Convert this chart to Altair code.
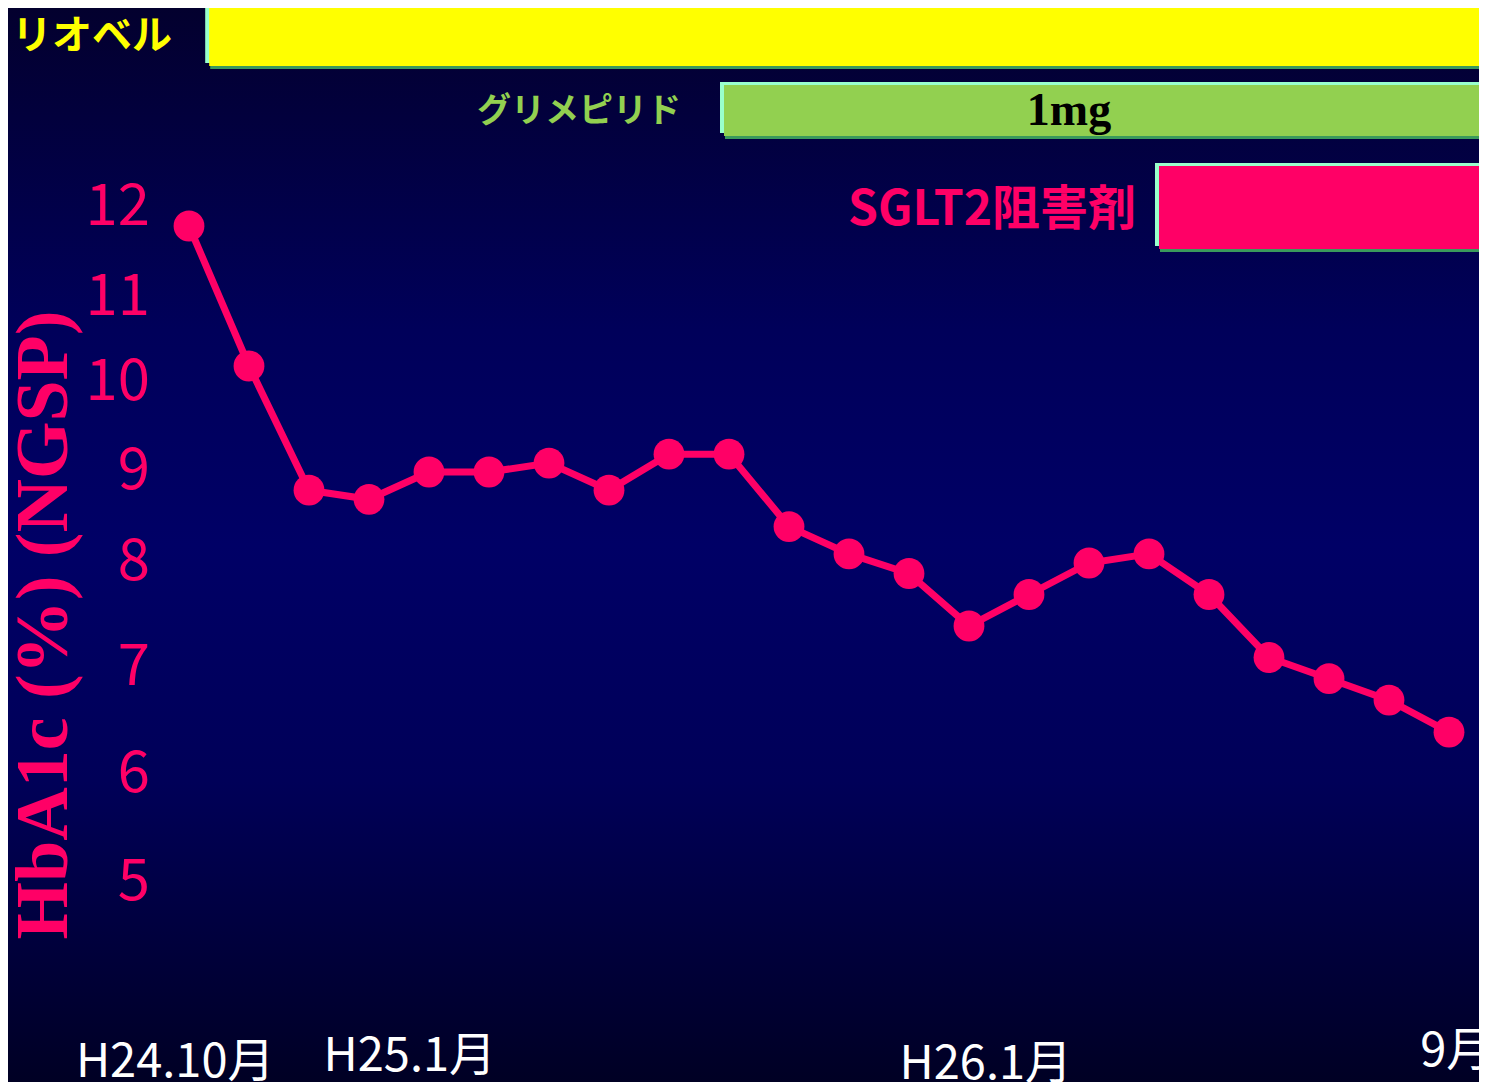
import altair as alt
import pandas as pd

# ---------------- data ----------------
visit_index = list(range(22))
hba1c = [11.8, 10.2, 8.8, 8.7, 9.0, 9.0, 9.1, 8.8, 9.2, 9.2, 8.4,
         8.1, 7.9, 7.4, 7.7, 8.0, 8.1, 7.7, 7.1, 6.9, 6.7, 6.4]

ytick_values = [5, 6, 7, 8, 9, 10, 11, 12]
ytick_labels = ["5", "6", "7", "8", "9", "10", "11", "12"]

xlabels = ["H24.10月", "H25.1月", "H26.1月", "9月"]
xlabel_pos = [-0.23, 3.68, 13.28, 20.52]      # in visit-index units

drug_names = ["リオベル", "グリメピリド", "SGLT2阻害剤"]
drug_start = [0.27, 8.85, 16.1]               # in visit-index units
drug_dose = ["", "1mg", ""]

# ---------------- layout / style ----------------
OFF = 8
W, H = 1487 - 2 * OFF, 1074
PINK = "#FF0066"

x_d0 = (0 + OFF - 189) / 60
x_d1 = (W + OFF - 189) / 60
xscale = alt.Scale(domain=[x_d0, x_d1], nice=False, zero=False)
ytick_px = [883, 775, 668, 563, 472, 383, 298, 208]
yscale = alt.Scale(domain=ytick_values, range=[p - OFF for p in ytick_px],
                   nice=False, zero=False)

df = pd.DataFrame({"i": visit_index, "v": hba1c})
one = pd.DataFrame({"a": [0]})

bg = alt.Chart(one).mark_rect(
    fill=alt.Gradient(
        gradient="linear", x1=0, x2=0, y1=0, y2=1,
        stops=[alt.GradientStop(color="#03002E", offset=0),
               alt.GradientStop(color="#00005A", offset=0.3),
               alt.GradientStop(color="#000066", offset=0.5),
               alt.GradientStop(color="#000058", offset=0.72),
               alt.GradientStop(color="#000024", offset=1)])
).encode(x=alt.value(0), x2=alt.value(W), y=alt.value(0), y2=alt.value(H))

layers = [bg]

# treatment bars (bevel: shadow, light outline, fill)
bar_geom = [(5, 63), (82, 133), (163, 246)]
bar_fill = ["#FFFF00", "#92D050", PINK]
drug_df = pd.DataFrame({"name": drug_names, "start": drug_start, "dose": drug_dose})
for k, name in enumerate(drug_names):
    y0, y1 = bar_geom[k]
    b = alt.Chart(drug_df).transform_filter(alt.datum.name == name)
    xenc = alt.X("start:Q", scale=xscale, axis=None)
    layers.append(b.mark_rect(color="#3A9A5C", xOffset=5).encode(
        x=xenc, x2=alt.value(W), y=alt.value(y0 + 5 - OFF), y2=alt.value(y1 + 6 - OFF)))
    layers.append(b.mark_rect(color="#99FFCC").encode(
        x=xenc, x2=alt.value(W), y=alt.value(y0 - OFF), y2=alt.value(y1 - OFF)))
    layers.append(b.mark_rect(color=bar_fill[k], xOffset=4).encode(
        x=xenc, x2=alt.value(W), y=alt.value(y0 + 3 - OFF), y2=alt.value(y1 + 3 - OFF)))

# dose text
layers.append(alt.Chart(drug_df).transform_filter(alt.datum.dose != "").mark_text(
    font="Liberation Serif", fontWeight="bold", fontSize=46, color="black",
    align="center", baseline="alphabetic"
).encode(x=alt.value(1069 - OFF), y=alt.value(125 - OFF), text="dose:N"))

# drug labels
lab_specs = [("left", 12, 37, "#FFFF00", 40), ("right", 681, 112, "#92D050", 34),
             ("right", 1136, 211, PINK, 48)]
for k, name in enumerate(drug_names):
    al, lx, ly, col, fs = lab_specs[k]
    layers.append(alt.Chart(drug_df).transform_filter(alt.datum.name == name).mark_text(
        font="Noto Sans CJK JP", fontWeight="bold", fontSize=fs, color=col,
        align=al, baseline="middle"
    ).encode(x=alt.value(lx - OFF), y=alt.value(ly - OFF), text="name:N"))

# y tick labels
ytick_df = pd.DataFrame({"t": ytick_values, "label": ytick_labels})
layers.append(alt.Chart(ytick_df).mark_text(
    font="Noto Sans CJK JP", fontSize=58, color=PINK, align="right", baseline="middle"
).encode(x=alt.value(150 - OFF), y=alt.Y("t:Q", scale=yscale, axis=None), text="label:N"))

# y title
layers.append(alt.Chart(one).mark_text(
    text="HbA1c (%) (NGSP)", angle=270, font="Liberation Serif", fontWeight="bold",
    fontSize=74, color=PINK, align="center", baseline="alphabetic"
).encode(x=alt.value(67 - OFF), y=alt.value(625 - OFF)))

# x labels
xl_df = pd.DataFrame({"label": xlabels, "pos": xlabel_pos})
xl_base = [1077, 1071, 1079, 1066]
xl_align = ["center", "center", "center", "left"]
for k, lab in enumerate(xlabels):
    layers.append(alt.Chart(xl_df).transform_filter(alt.datum.label == lab).mark_text(
        font="Noto Sans CJK JP", fontSize=47, color="white",
        align=xl_align[k], baseline="alphabetic"
    ).encode(x=alt.X("pos:Q", scale=xscale, axis=None),
             y=alt.value(xl_base[k] - OFF), text="label:N"))

# data line and points
line = alt.Chart(df).mark_line(color=PINK, strokeWidth=7).encode(
    x=alt.X("i:Q", scale=xscale, axis=None), y=alt.Y("v:Q", scale=yscale, axis=None))
pts = alt.Chart(df).mark_circle(color=PINK, size=950, opacity=1).encode(
    x=alt.X("i:Q", scale=xscale, axis=None), y=alt.Y("v:Q", scale=yscale, axis=None))
layers += [line, pts]

chart = alt.layer(*layers).properties(
    width=W, height=H, padding=0, background="#03002E",
    autosize=alt.AutoSizeParams(type="none")
).configure_view(stroke=None)

chart.save("out.html", embed_options={"renderer": "svg", "actions": False})
